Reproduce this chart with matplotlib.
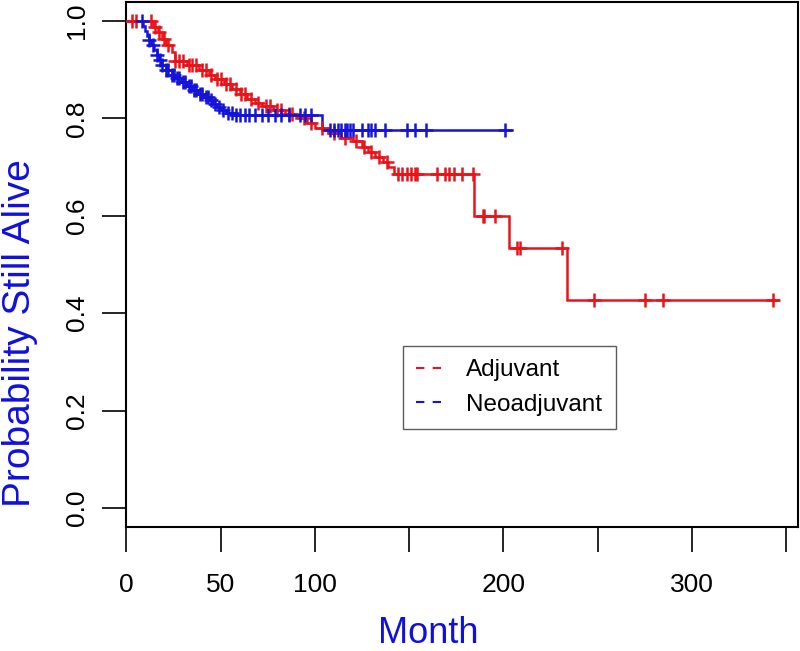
import numpy as np
import matplotlib
matplotlib.use("Agg")
import matplotlib.pyplot as plt
from matplotlib.lines import Line2D

plt.rcParams['font.family'] = ['Liberation Sans', 'DejaVu Sans']

# ---------------- data ----------------
groups = ["Adjuvant", "Neoadjuvant"]

# Adjuvant (red) Kaplan-Meier steps: event times (months) and survival after each step
adj_times = [14, 16.5, 19, 21, 24, 25.5, 32, 38.5, 44, 47, 52, 56, 60, 64, 68, 72, 78, 84,
             90, 96, 100, 107, 114, 120, 125, 128, 132, 136, 139, 142, 184.3, 203, 234]
adj_surv = [0.988, 0.977, 0.963, 0.95, 0.936, 0.918, 0.91, 0.90, 0.889, 0.88, 0.87, 0.86, 0.85,
            0.84, 0.832, 0.826, 0.818, 0.81, 0.80, 0.79, 0.78, 0.77, 0.76, 0.754, 0.741, 0.731,
            0.72, 0.71, 0.70, 0.686, 0.60, 0.534, 0.427]
adj_censor = [2.7, 5, 13, 15, 17, 20, 22, 26, 28, 30, 33, 35, 37, 40, 42, 45, 48, 50, 53, 55, 58,
              61, 63, 66, 70, 74, 76, 80, 82, 86, 88, 94, 98, 104, 110, 116, 122, 126, 130, 134,
              138, 144, 146, 149, 151, 153, 154, 165, 169, 171, 174, 178, 184, 189, 190, 195.5,
              207.5, 208.7, 231, 248, 275, 284.5, 343]
adj_end = 346

# Neoadjuvant (blue)
neo_times = [8.5, 10, 11, 12, 13, 14.5, 16, 17.5, 19, 21, 24, 26, 29, 32, 35, 38, 41, 44, 46,
             48, 50, 53, 57, 103.5]
neo_surv = [0.99, 0.98, 0.97, 0.96, 0.95, 0.94, 0.93, 0.92, 0.91, 0.90, 0.89, 0.882, 0.875,
            0.866, 0.858, 0.851, 0.844, 0.837, 0.83, 0.824, 0.818, 0.812, 0.807, 0.776]
neo_censor = [8, 12, 14, 16, 18, 19, 21, 22, 24, 25, 27, 28, 30, 31, 33, 34, 36, 37, 39, 40, 42,
              43, 45, 47, 49, 51, 54, 56, 58, 60, 63, 65, 68, 72, 75, 78.6, 82, 86.5, 92, 95, 98,
              108, 110, 112, 114, 116, 117, 118.5, 120, 125, 128, 130, 132, 137, 149, 153, 159, 201]
neo_end = 204.5

x_ticks = [0, 50, 100, 150, 200, 250, 300, 350]
x_tick_labels = ["0", "50", "100", "", "200", "", "300", ""]
y_ticks = [0.0, 0.2, 0.4, 0.6, 0.8, 1.0]
y_tick_labels = ["0.0", "0.2", "0.4", "0.6", "0.8", "1.0"]

RED = "#e8141a"
BLUE = "#1414d8"
LABEL_BLUE = "#1010dd"

# ---------------- figure ----------------
W, H = 800, 651
fig = plt.figure(figsize=(W / 100, H / 100), dpi=100)
ax = fig.add_axes([126.5 / W, 1 - 527 / H, (798 - 126.5) / W, (527 - 2) / H])


def km(ax, times, surv, censor, end, color):
    xs = np.concatenate([[0.0], times, [end]])
    ys = np.concatenate([[1.0], surv, [surv[-1]]])
    ax.step(xs, ys, where="post", color=color, lw=1.8, solid_joinstyle="miter", zorder=3)
    t = np.asarray(times)
    s = np.concatenate([[1.0], surv])
    cy = s[np.searchsorted(t, np.asarray(censor), side="right")]
    ax.plot(censor, cy, ls="none", marker="+", ms=10, mew=1.8, color=color, zorder=4)


km(ax, adj_times, adj_surv, adj_censor, adj_end, RED)
km(ax, neo_times, neo_surv, neo_censor, neo_end, BLUE)

ax.set_xlim(0, 356.4)
ax.set_ylim(-0.039, 1.039)

ax.set_xticks(x_ticks)
ax.set_xticklabels(x_tick_labels)
ax.set_yticks(y_ticks)
ax.set_yticklabels(y_tick_labels, rotation=90, va="center")

ax.tick_params(axis="x", direction="out", length=18, width=1.2, pad=15, labelsize=19)
ax.tick_params(axis="y", direction="out", length=17, width=1.2, pad=10, labelsize=19)
for sp in ax.spines.values():
    sp.set_linewidth(1.5)
    sp.set_color("black")

# axis titles
fig.text(428 / W, 1 - 643 / H, "Month", color=LABEL_BLUE, fontsize=26,
         ha="center", va="baseline")
fig.text(20 / W, 1 - 333 / H, "Probability Still Alive", color=LABEL_BLUE, fontsize=28,
         rotation=90, ha="center", va="center")

# legend
handles = [Line2D([0], [0], color=RED, lw=1.5, ls=(0, (4, 4))),
           Line2D([0], [0], color=BLUE, lw=1.5, ls=(0, (4, 4)))]
leg = fig.legend(handles, groups, loc="upper left",
                 bbox_to_anchor=(403 / W, 1 - 346 / H), borderaxespad=0,
                 fontsize=17.5, frameon=True, fancybox=False, shadow=False,
                 handlelength=1.3, handletextpad=0.75, borderpad=0.55,
                 labelspacing=0.5)
leg.get_frame().set_edgecolor("#333333")
leg.get_frame().set_linewidth(1.0)

fig.savefig("out.png", dpi=100, facecolor="white")
